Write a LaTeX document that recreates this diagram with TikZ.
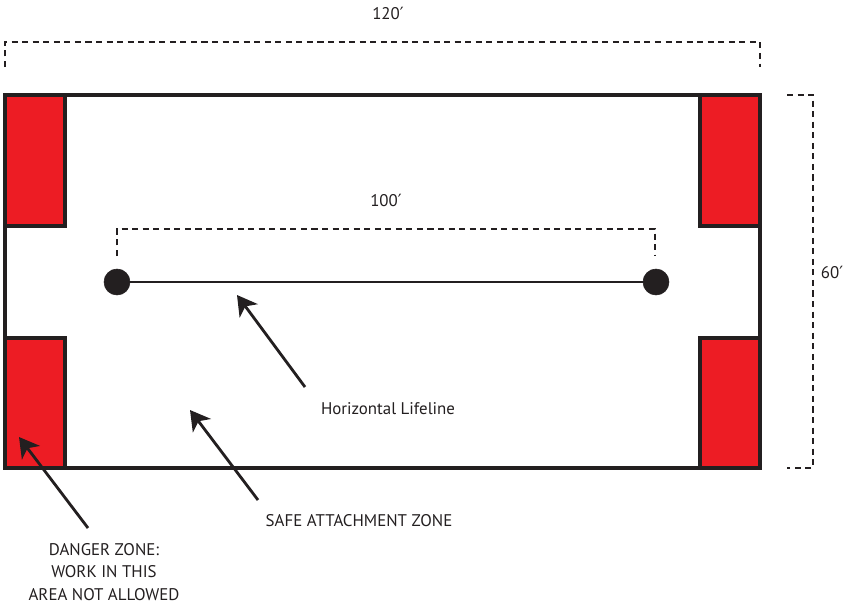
\documentclass[tikz,border=0pt]{standalone}
\usepackage{fontspec}
\setmainfont{PT Sans}
\newfontfamily\primefont{DejaVu Sans}
\usetikzlibrary{arrows.meta}
\definecolor{zonered}{HTML}{ED1C24}
\definecolor{ink}{HTML}{231F20}
\newcommand{\ft}{{\primefont ′}}

\begin{document}
\begin{tikzpicture}[x=0.025cm, y=-0.025cm,
    dim/.style={ink, line width=1.8pt, dash pattern=on 4.3pt off 3.2pt},
    pointer/.style={ink, line width=2pt, -{Stealth[length=14pt, width=16pt, inset=4pt]}},
    lbl/.style={font=\fontsize{12}{16}\selectfont, text=ink, align=center, inner sep=0pt}]
    \useasboundingbox (0,0) rectangle (868,608);

    % site outline and danger zones
    \draw[ink, line width=2.3pt, fill=white] (5,95) rectangle (760,468);
    \draw[ink, line width=2.3pt, fill=zonered] (5,95) rectangle (65,226);
    \draw[ink, line width=2.3pt, fill=zonered] (5,338) rectangle (65,468);
    \draw[ink, line width=2.3pt, fill=zonered] (700,95) rectangle (760,226);
    \draw[ink, line width=2.3pt, fill=zonered] (700,338) rectangle (760,468);

    % dimensions
    \draw[dim] (5,67) -- (5,42) -- (760,42) -- (760,67);
    \draw[dim] (787,95) -- (813,95) -- (813,468) -- (787,468);
    \draw[dim] (117,256) -- (117,229) -- (655,229) -- (655,256);
    \node[lbl] (w120) at (388,13) {120\ft};
    \node[lbl] (h60) at (832,272) {60\ft};
    \node[lbl] (w100) at (386,200) {100\ft};

    % lifeline
    \draw[ink, line width=1.6pt] (117,282) -- (656,282);
    \filldraw[ink] (117,282) circle (13);
    \filldraw[ink] (656,282) circle (13);

    % labels and pointers
    \node[lbl] (life) at (388,409) {Horizontal Lifeline};
    \node[lbl] (safe) at (359,521) {SAFE ATTACHMENT ZONE};
    \node[lbl] (danger) at (104,572) {DANGER ZONE:\\WORK IN THIS\\AREA NOT ALLOWED};
    \coordinate (lifetip) at (237,295);
    \coordinate (safetip) at (190,410);
    \coordinate (dangertip) at (19,437);
    \draw[pointer] (305,387) -- (lifetip);
    \draw[pointer] (258,500) -- (safetip);
    \draw[pointer] (88,528) -- (dangertip);
\end{tikzpicture}
\end{document}
